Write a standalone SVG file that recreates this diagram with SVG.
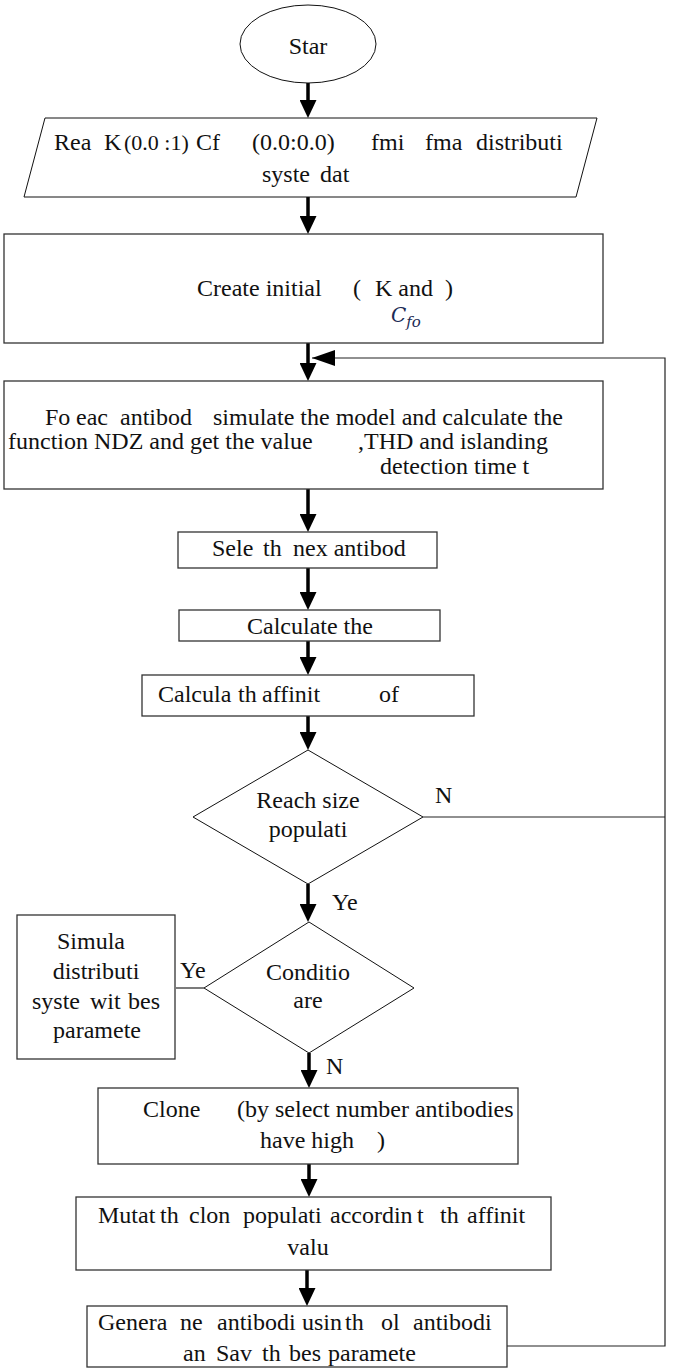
<svg xmlns="http://www.w3.org/2000/svg" width="675" height="1369" viewBox="0 0 675 1369">
<defs>
<style>
.t{font-family:"Liberation Serif","Times New Roman",serif;font-size:24px;fill:#111}
.box{fill:#fff;stroke:#333;stroke-width:1.3}
.dia{fill:#fff;stroke:#111;stroke-width:1}
.arr{stroke:#000;stroke-width:3.5;fill:none;marker-end:url(#ah)}
.thin{stroke:#222;stroke-width:1.2;fill:none}
.math{font-family:"DejaVu Serif","Liberation Serif",serif;font-style:italic;fill:#1c2b55}
</style>
<marker id="ah" markerUnits="userSpaceOnUse" markerWidth="18" markerHeight="17" refX="10" refY="8.5" orient="auto" viewBox="0 0 18 17">
<path d="M0,0 L18,8.5 L0,17 z" fill="#000"/>
</marker>
<marker id="ahl" markerUnits="userSpaceOnUse" markerWidth="23" markerHeight="16" refX="23" refY="8" orient="auto" viewBox="0 0 23 16">
<path d="M0,0 L23,8 L0,16 z" fill="#000"/>
</marker>
</defs>
<rect width="675" height="1369" fill="#fff"/>

<g id="connectors">
<line class="arr" x1="308" y1="83" x2="308" y2="110"/>
<line class="arr" x1="308" y1="197" x2="308" y2="226"/>
<line class="arr" x1="308" y1="343" x2="308" y2="373"/>
<line class="arr" x1="308" y1="489" x2="308" y2="524"/>
<line class="arr" x1="308" y1="568" x2="308" y2="602"/>
<line class="arr" x1="308" y1="641" x2="308" y2="667"/>
<line class="arr" x1="308" y1="716" x2="308" y2="742"/>
<line class="arr" x1="308" y1="884" x2="308" y2="914"/>
<line class="arr" x1="309" y1="1053" x2="309" y2="1080"/>
<line class="arr" x1="309" y1="1164" x2="309" y2="1189"/>
<line class="arr" x1="307" y1="1270" x2="307" y2="1298"/>
<line class="thin" x1="423" y1="817" x2="665" y2="817"/>
<line class="thin" x1="176" y1="988" x2="204" y2="988"/>
<polyline class="thin" points="507,1346 665,1346 665,358 312,358" marker-end="url(#ahl)"/>
<text class="t" x="435" y="803">N</text>
<text class="t" x="332" y="910">Ye</text>
<text class="t" x="180" y="978">Ye</text>
<text class="t" x="326" y="1074">N</text>
</g>

<g id="n-start">
<ellipse cx="308" cy="44" rx="68" ry="39" fill="#fff" stroke="#111" stroke-width="1"/>
<text class="t" x="308" y="54" text-anchor="middle">Star</text>
</g>

<g id="n-read">
<polygon class="dia" points="45,118 597,118 576,197 24,197"/>
<text class="t" y="150"><tspan x="54">Rea</tspan> <tspan x="104">K</tspan> <tspan x="124" font-size="22">(0.0 :1)</tspan> <tspan x="196">Cf</tspan> <tspan x="252">(0.0:0.0)</tspan> <tspan x="371">fmi</tspan> <tspan x="425">fma</tspan> <tspan x="476">distributi</tspan></text>
<text class="t" y="182"><tspan x="262">syste</tspan> <tspan x="320">dat</tspan></text>
</g>

<g id="n-init">
<rect class="box" x="4" y="234" width="599" height="109"/>
<text class="t" y="296"><tspan x="197">Create initial</tspan> <tspan x="353">(</tspan> <tspan x="375">K and</tspan> <tspan x="445">)</tspan></text>
<text class="math" x="391" y="322" font-size="20">C<tspan font-size="15" dy="5">fo</tspan></text>
</g>

<g id="n-eval">
<rect class="box" x="4" y="381" width="599" height="108"/>
<text class="t" y="425"><tspan x="45">Fo</tspan> <tspan x="76">eac</tspan> <tspan x="120">antibod</tspan> <tspan x="213">simulate the model and calculate the</tspan></text>
<text class="t" y="449"><tspan x="8">function NDZ and get the value</tspan> <tspan x="358">,THD and islanding</tspan></text>
<text class="t" x="380" y="474">detection time t</text>
</g>

<g id="n-select">
<rect class="box" x="178" y="532" width="259" height="36"/>
<text class="t" y="556"><tspan x="212">Sele</tspan> <tspan x="263">th</tspan> <tspan x="293">nex antibod</tspan></text>
</g>

<g id="n-calc">
<rect class="box" x="179" y="610" width="261" height="31"/>
<text class="t" x="247" y="634">Calculate the</text>
</g>

<g id="n-affinity">
<rect class="box" x="142" y="675" width="332" height="41"/>
<text class="t" y="702"><tspan x="158">Calcula</tspan> <tspan x="238">th</tspan> <tspan x="262">affinit</tspan> <tspan x="379">of</tspan></text>
</g>

<g id="n-reach">
<polygon class="dia" points="308,750 423,817 308,884 193,817"/>
<text class="t" x="308" y="808" text-anchor="middle">Reach size</text>
<text class="t" x="308" y="837" text-anchor="middle">populati</text>
</g>

<g id="n-cond">
<polygon class="dia" points="309,922 414,988 309,1053 204,988"/>
<text class="t" x="308" y="980" text-anchor="middle">Conditio</text>
<text class="t" x="308" y="1008" text-anchor="middle">are</text>
</g>

<g id="n-simulate">
<rect class="box" x="17" y="915" width="158" height="144"/>
<text class="t" x="91" y="949" text-anchor="middle">Simula</text>
<text class="t" x="96" y="979" text-anchor="middle">distributi</text>
<text class="t" y="1009"><tspan x="32">syste</tspan> <tspan x="90">wit</tspan> <tspan x="128">bes</tspan></text>
<text class="t" x="97" y="1038" text-anchor="middle">paramete</text>
</g>

<g id="n-clone">
<rect class="box" x="98" y="1088" width="420" height="76"/>
<text class="t" y="1117"><tspan x="143">Clone</tspan> <tspan x="237">(by select number antibodies</tspan></text>
<text class="t" y="1148"><tspan x="260">have high</tspan> <tspan x="377">)</tspan></text>
</g>

<g id="n-mutate">
<rect class="box" x="76" y="1197" width="475" height="73"/>
<text class="t" y="1223"><tspan x="98">Mutat</tspan> <tspan x="160">th</tspan> <tspan x="189">clon</tspan> <tspan x="243">populati</tspan> <tspan x="330">accordin</tspan> <tspan x="417">t</tspan> <tspan x="440">th</tspan> <tspan x="467">affinit</tspan></text>
<text class="t" x="308" y="1255" text-anchor="middle">valu</text>
</g>

<g id="n-generate">
<rect class="box" x="87" y="1306" width="420" height="61"/>
<text class="t" y="1330"><tspan x="98">Genera</tspan> <tspan x="180">ne</tspan> <tspan x="217">antibodi</tspan> <tspan x="302">usin</tspan> <tspan x="345">th</tspan> <tspan x="381">ol</tspan> <tspan x="413">antibodi</tspan></text>
<text class="t" y="1361"><tspan x="183">an</tspan> <tspan x="216">Sav</tspan> <tspan x="262">th</tspan> <tspan x="289">bes</tspan> <tspan x="328">paramete</tspan></text>
</g>
</svg>
